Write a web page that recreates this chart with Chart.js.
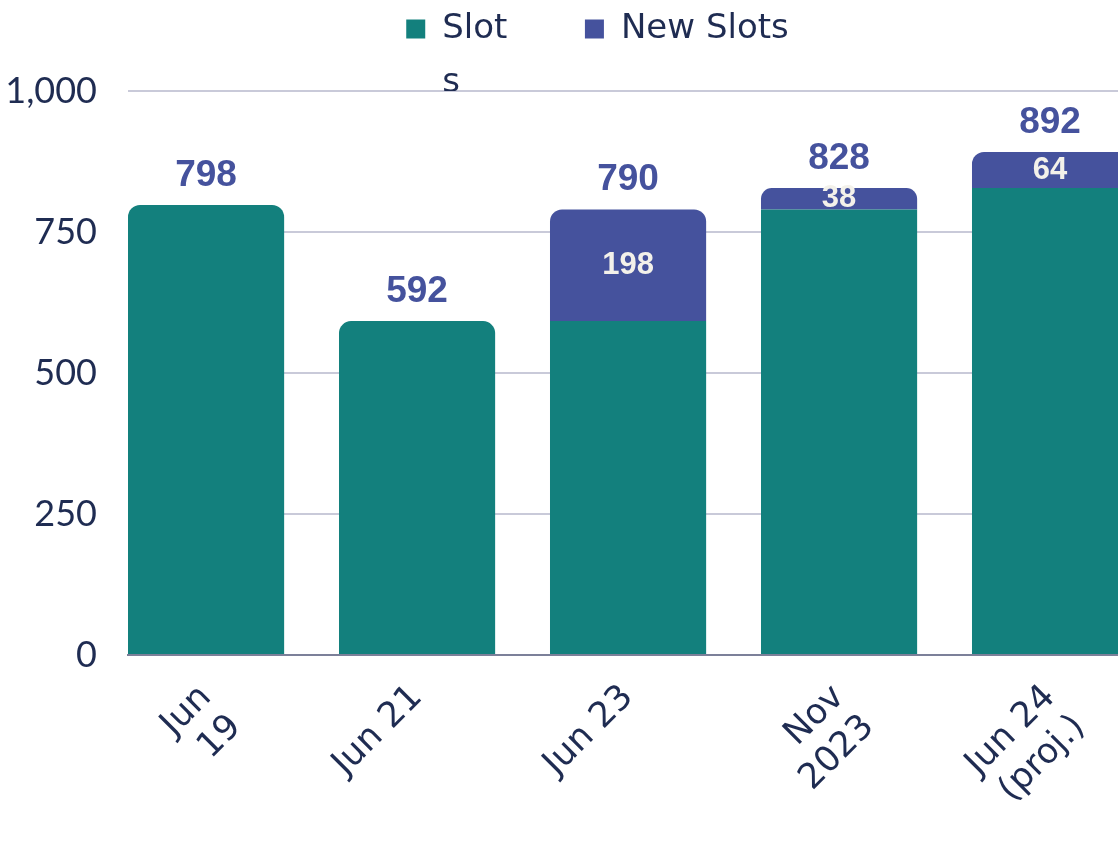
<!DOCTYPE html>
<html>
<head>
<meta charset="utf-8">
<script src="https://cdn.jsdelivr.net/npm/chart.js@4/dist/chart.umd.min.js"></script>
<style>
html,body{margin:0;padding:0;background:#ffffff;overflow:hidden}
#wrap{width:1118px;height:848px;position:relative}
</style>
</head>
<body>
<div id="wrap"><canvas id="c" width="1118" height="848"></canvas></div>
<script>
// ---- data ----
const categories = [['Jun', '19'], 'Jun 21', 'Jun 23', ['Nov', '2023'], ['Jun 24', '(proj.)']];
const slots = [798, 592, 592, 790, 828];
const newSlots = [0, 0, 198, 38, 64];
const yTicks = [0, 250, 500, 750, 1000];
const seriesNames = [['Slot', 's'], 'New Slots'];

// ---- style ----
const TEAL = '#13807d';
const BLUE = '#45529d';
const INK = '#1f2c52';
const LEGEND_FONT = '"DejaVu Sans", sans-serif';
const TICK_FONT = 'Lato, "DejaVu Sans", sans-serif';
const LABEL_FONT = '"Liberation Sans", Arial, sans-serif';

const toPoints = arr => arr.map((v, i) => ({ x: i, y: v }));
const topRadius = { topLeft: 12, topRight: 12, bottomLeft: 0, bottomRight: 0 };

const valueLabels = {
  id: 'valueLabels',
  afterDatasetsDraw(chart) {
    const ctx = chart.ctx;
    const m0 = chart.getDatasetMeta(0).data;
    const m1 = chart.getDatasetMeta(1).data;
    ctx.save();
    ctx.textAlign = 'center';
    ctx.textBaseline = 'middle';
    ctx.fillStyle = '#f3f1ea';
    ctx.font = 'bold 31px ' + LABEL_FONT;
    newSlots.forEach((v, i) => {
      if (!v) return;
      const el = m1[i];
      ctx.fillText(String(v), el.x, (el.y + el.base) / 2);
    });
    ctx.fillStyle = BLUE;
    ctx.font = 'bold 37px ' + LABEL_FONT;
    ctx.textBaseline = 'alphabetic';
    slots.forEach((v, i) => {
      const total = v + newSlots[i];
      const el = newSlots[i] ? m1[i] : m0[i];
      ctx.fillText(String(total), el.x, el.y - 19);
    });
    ctx.restore();
  }
};

// let the two-line legend entry show below the legend row
const legendRoom = {
  id: 'legendRoom',
  afterLayout(chart) {
    if (chart.legend) chart.legend.bottom = chart.chartArea.top;
  }
};

new Chart(document.getElementById('c'), {
  type: 'bar',
  data: {
    datasets: [
      {
        label: seriesNames[0],
        data: toPoints(slots),
        backgroundColor: TEAL,
        borderRadius: c => newSlots[c.dataIndex] ? 0 : topRadius,
        borderSkipped: 'bottom',
        categoryPercentage: 1,
        barPercentage: 0.74
      },
      {
        label: seriesNames[1],
        data: toPoints(newSlots),
        backgroundColor: BLUE,
        borderRadius: topRadius,
        borderSkipped: 'bottom',
        categoryPercentage: 1,
        barPercentage: 0.74
      }
    ]
  },
  options: {
    responsive: false,
    animation: false,
    devicePixelRatio: 1,
    layout: { padding: { top: -37, left: 0, right: -77, bottom: 0 } },
    plugins: {
      tooltip: { enabled: false },
      legend: {
        display: true,
        position: 'top',
        align: 'center',
        labels: {
          boxWidth: 19,
          boxHeight: 19,
          padding: 49,
          color: INK,
          font: { family: LEGEND_FONT, size: 34, lineHeight: 1.6 }
        }
      },
      title: {
        display: true,
        text: ' ',
        weight: 500,
        position: 'top',
        padding: { top: 33, bottom: 0 },
        font: { size: 2, lineHeight: 1 }
      }
    },
    scales: {
      x: {
        type: 'linear',
        stacked: true,
        offset: false,
        min: -0.37,
        max: 4.322,
        afterBuildTicks: s => { s.ticks = categories.map((_, i) => ({ value: i })); },
        afterFit: s => { s.height = 193; s.paddingLeft = 0; s.paddingRight = 0; },
        ticks: {
          autoSkip: false,
          minRotation: 45,
          maxRotation: 45,
          padding: 22,
          color: INK,
          font: { family: LEGEND_FONT, size: 35, lineHeight: 1.2 },
          callback: (v, i) => categories[i]
        },
        grid: { display: false, drawTicks: false, offset: false },
        border: { display: true, color: '#7c8099', width: 2 }
      },
      y: {
        stacked: true,
        min: 0,
        max: 1000,
        afterBuildTicks: s => { s.ticks = yTicks.map(v => ({ value: v })); },
        afterFit: s => { s.width = 128; },
        ticks: {
          padding: 31,
          color: INK,
          font: { family: TICK_FONT, size: 36 },
          callback: v => v.toLocaleString('en-US')
        },
        grid: { color: '#c9cad9', lineWidth: 2, drawTicks: false },
        border: { display: false }
      }
    }
  },
  plugins: [valueLabels, legendRoom]
});
</script>
</body>
</html>
